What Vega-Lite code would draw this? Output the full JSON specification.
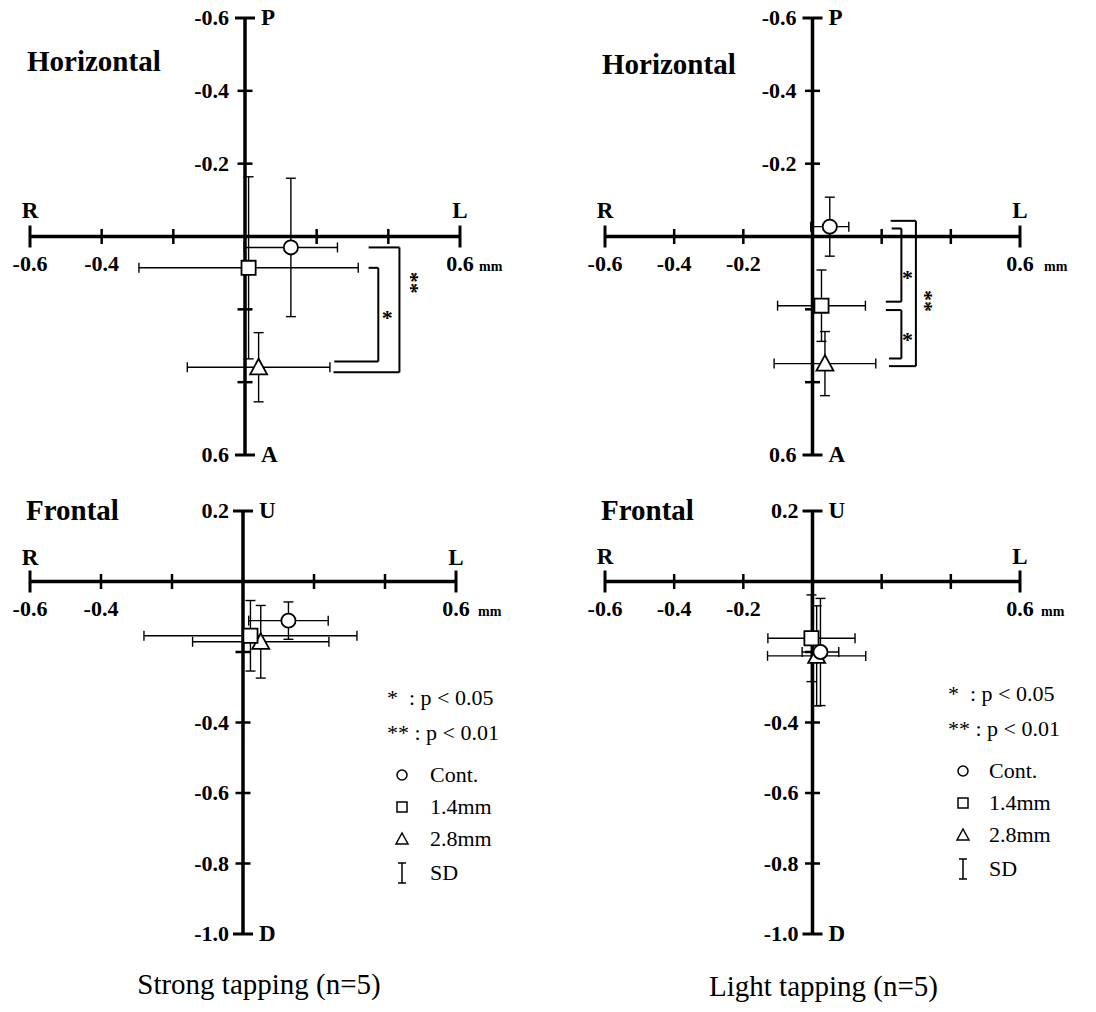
{
"$schema": "https://vega.github.io/schema/vega-lite/v6.json",
"background": "white",
"padding": {"left": 12, "top": 7, "right": 5, "bottom": 5},
"config": {"view": {"stroke": null}},
"datasets": {
"pts": [
{"panel":"TL","cond":"Cont.","x":0.128,"y":0.03,"sdx":0.13,"sdy":0.19},
{"panel":"TL","cond":"1.4mm","x":0.01,"y":0.086,"sdx":0.306,"sdy":0.25},
{"panel":"TL","cond":"2.8mm","x":0.038,"y":0.359,"sdx":0.199,"sdy":0.095},
{"panel":"TR","cond":"Cont.","x":0.05,"y":-0.027,"sdx":0.055,"sdy":0.081},
{"panel":"TR","cond":"1.4mm","x":0.026,"y":0.19,"sdx":0.127,"sdy":0.098},
{"panel":"TR","cond":"2.8mm","x":0.036,"y":0.349,"sdx":0.147,"sdy":0.088},
{"panel":"BL","cond":"Cont.","x":0.128,"y":-0.111,"sdx":0.112,"sdy":0.053},
{"panel":"BL","cond":"2.8mm","x":0.05,"y":-0.171,"sdx":0.192,"sdy":0.103},
{"panel":"BL","cond":"1.4mm","x":0.021,"y":-0.154,"sdx":0.30,"sdy":0.10},
{"panel":"BR","cond":"2.8mm","x":0.012,"y":-0.211,"sdx":0.142,"sdy":0.142},
{"panel":"BR","cond":"1.4mm","x":-0.003,"y":-0.161,"sdx":0.126,"sdy":0.123},
{"panel":"BR","cond":"Cont.","x":0.023,"y":-0.20,"sdx":0.053,"sdy":0.152}
],
"brk": [
{"panel":"TL","x":0.345,"x2":0.431,"y":0.03,"y2":0.03},
{"panel":"TL","x":0.431,"x2":0.431,"y":0.03,"y2":0.373},
{"panel":"TL","x":0.247,"x2":0.431,"y":0.373,"y2":0.373},
{"panel":"TL","x":0.345,"x2":0.372,"y":0.086,"y2":0.086},
{"panel":"TL","x":0.372,"x2":0.372,"y":0.086,"y2":0.343},
{"panel":"TL","x":0.249,"x2":0.372,"y":0.343,"y2":0.343},
{"panel":"TR","x":0.226,"x2":0.299,"y":-0.043,"y2":-0.043},
{"panel":"TR","x":0.299,"x2":0.299,"y":-0.043,"y2":0.356},
{"panel":"TR","x":0.221,"x2":0.299,"y":0.356,"y2":0.356},
{"panel":"TR","x":0.229,"x2":0.257,"y":-0.022,"y2":-0.022},
{"panel":"TR","x":0.257,"x2":0.257,"y":-0.022,"y2":0.179},
{"panel":"TR","x":0.212,"x2":0.257,"y":0.179,"y2":0.179},
{"panel":"TR","x":0.212,"x2":0.257,"y":0.202,"y2":0.202},
{"panel":"TR","x":0.257,"x2":0.257,"y":0.202,"y2":0.335},
{"panel":"TR","x":0.221,"x2":0.257,"y":0.335,"y2":0.335}
],
"stars": [
{"panel":"TL","x":0.397,"y":0.21,"t":"*"},
{"panel":"TL","x":0.47,"y":0.127,"t":"**"},
{"panel":"TR","x":0.275,"y":0.10,"t":"*"},
{"panel":"TR","x":0.275,"y":0.271,"t":"*"},
{"panel":"TR","x":0.327,"y":0.177,"t":"**"}
],
"hAxis": [{"x":-0.6,"x2":0.6,"y":0,"y2":0},{"x":0,"x2":0,"y":-0.6,"y2":0.6}],
"fAxis": [{"x":-0.6,"x2":0.6,"y":0,"y2":0},{"x":0,"x2":0,"y":-1.0,"y2":0.2}],
"xMinor": [{"v":-0.4},{"v":-0.2},{"v":0.2},{"v":0.4}],
"xEnds": [{"v":-0.6},{"v":0.6}],
"hyMinor": [{"v":-0.4},{"v":-0.2},{"v":0.2},{"v":0.4}],
"hyEnds": [{"v":-0.6},{"v":0.6}],
"fyMinor": [{"v":-0.2},{"v":-0.4},{"v":-0.6},{"v":-0.8}],
"fyEnds": [{"v":0.2},{"v":-1.0}],
"xLabL": [{"v":-0.6,"t":"-0.6"},{"v":-0.4,"t":"-0.4"},{"v":0.6,"t":"0.6"}],
"xLabR": [{"v":-0.6,"t":"-0.6"},{"v":-0.4,"t":"-0.4"},{"v":-0.2,"t":"-0.2"},{"v":0.6,"t":"0.6"}],
"hyLab": [{"v":-0.6,"t":"-0.6"},{"v":-0.4,"t":"-0.4"},{"v":-0.2,"t":"-0.2"},{"v":0.6,"t":"0.6"}],
"fyLab": [{"v":0.2,"t":"0.2"},{"v":-0.4,"t":"-0.4"},{"v":-0.6,"t":"-0.6"},{"v":-0.8,"t":"-0.8"},{"v":-1.0,"t":"-1.0"}],
"xDir": [{"v":-0.6,"t":"R"},{"v":0.6,"t":"L"}],
"hyDir": [{"v":-0.6,"t":"P"},{"v":0.6,"t":"A"}],
"fyDir": [{"v":0.2,"t":"U"},{"v":-1.0,"t":"D"}],
"unit": [{"v":0.6,"t":"mm"}]
},
"columns": 2,
"spacing": {"row": 56, "column": 145},
"bounds": "flush",
"resolve": {"scale": {"x":"independent","y":"independent","shape":"independent"}, "legend": {"shape":"independent"}},
"concat": [
{
"width":430,"height":437,
"layer":[
{"data":{"name":"hAxis"},"mark":{"type":"rule","color":"black","strokeWidth":3.5},"encoding":{"x":{"field":"x","type":"quantitative","scale":{"domain":[-0.6,0.6],"nice":false,"zero":false},"axis":null},"x2":{"field":"x2"},"y":{"field":"y","type":"quantitative","scale":{"domain":[-0.6,0.6],"reverse":true,"nice":false,"zero":false},"axis":null},"y2":{"field":"y2"}}},
{"data":{"name":"xMinor"},"mark":{"type":"tick","orient":"vertical","size":15,"thickness":2.5,"color":"black","opacity":1},"encoding":{"x":{"field":"v","type":"quantitative","axis":null},"y":{"datum":0,"axis":null}}},
{"data":{"name":"xEnds"},"mark":{"type":"tick","orient":"vertical","size":22,"thickness":3,"color":"black","opacity":1},"encoding":{"x":{"field":"v","type":"quantitative","axis":null},"y":{"datum":0,"axis":null}}},
{"data":{"name":"hyMinor"},"mark":{"type":"tick","orient":"horizontal","size":15,"thickness":2.5,"color":"black","opacity":1},"encoding":{"y":{"field":"v","type":"quantitative","axis":null},"x":{"datum":0,"axis":null}}},
{"data":{"name":"hyEnds"},"mark":{"type":"tick","orient":"horizontal","size":20,"thickness":3,"color":"black","opacity":1},"encoding":{"y":{"field":"v","type":"quantitative","axis":null},"x":{"datum":0,"axis":null}}},
{"data":{"name":"xLabL"},"mark":{"type":"text","font":"Liberation Serif","fontWeight":"bold","fontSize":22,"align":"center","baseline":"alphabetic","dy":34,"color":"black"},"encoding":{"x":{"field":"v","type":"quantitative","axis":null},"y":{"datum":0,"axis":null},"text":{"field":"t"}}},
{"data":{"name":"unit"},"mark":{"type":"text","font":"Liberation Serif","fontWeight":"bold","fontSize":14,"align":"left","baseline":"alphabetic","dx":19,"dy":34,"color":"black"},"encoding":{"x":{"field":"v","type":"quantitative","axis":null},"y":{"datum":0,"axis":null},"text":{"field":"t"}}},
{"data":{"name":"hyLab"},"mark":{"type":"text","font":"Liberation Serif","fontWeight":"bold","fontSize":22,"align":"right","baseline":"middle","dx":-16,"color":"black"},"encoding":{"y":{"field":"v","type":"quantitative","axis":null},"x":{"datum":0,"axis":null},"text":{"field":"t"}}},
{"data":{"name":"xDir"},"mark":{"type":"text","font":"Liberation Serif","fontWeight":"bold","fontSize":23,"align":"center","baseline":"alphabetic","dy":-19,"color":"black"},"encoding":{"x":{"field":"v","type":"quantitative","axis":null},"y":{"datum":0,"axis":null},"text":{"field":"t"}}},
{"data":{"name":"hyDir"},"mark":{"type":"text","font":"Liberation Serif","fontWeight":"bold","fontSize":23,"align":"left","baseline":"middle","dx":16,"color":"black"},"encoding":{"y":{"field":"v","type":"quantitative","axis":null},"x":{"datum":0,"axis":null},"text":{"field":"t"}}},
{"data":{"values":[{"t":"Horizontal"}]},"mark":{"type":"text","font":"Liberation Serif","fontWeight":"bold","fontSize":29,"align":"left","baseline":"alphabetic","dx":-3,"color":"black"},"encoding":{"x":{"datum":-0.6,"axis":null},"y":{"datum":-0.455,"axis":null},"text":{"field":"t"}}},
{"data":{"name":"pts"},"transform":[{"filter":"datum.panel === 'TL'"}],"mark":{"type":"errorbar","ticks":true,"size":10,"thickness":1.4,"color":"black","opacity":1},"encoding":{"x":{"field":"x","type":"quantitative","axis":null},"xError":{"field":"sdx"},"y":{"field":"y","type":"quantitative","axis":null}}},
{"data":{"name":"pts"},"transform":[{"filter":"datum.panel === 'TL'"}],"mark":{"type":"errorbar","ticks":true,"size":10,"thickness":1.4,"color":"black","opacity":1},"encoding":{"y":{"field":"y","type":"quantitative","axis":null},"yError":{"field":"sdy"},"x":{"field":"x","type":"quantitative","axis":null}}},
{"data":{"name":"pts"},"transform":[{"filter":"datum.panel === 'TL'"}],"mark":{"type":"point","filled":false,"fill":"white","stroke":"black","strokeWidth":1.8,"size":200,"opacity":1},"encoding":{"x":{"field":"x","type":"quantitative","axis":null},"y":{"field":"y","type":"quantitative","axis":null},"shape":{"field":"cond","type":"nominal","scale":{"domain":["Cont.","1.4mm","2.8mm","SD"],"range":["circle","square","M0,-1.2L-1.2,1L1.2,1Z","M0,-2L0,2M-0.8,-2L0.8,-2M-0.8,2L0.8,2"]},"legend":null}}},
{"data":{"name":"brk"},"transform":[{"filter":"datum.panel === 'TL'"}],"mark":{"type":"rule","color":"black","strokeWidth":2},"encoding":{"x":{"field":"x","type":"quantitative","axis":null},"x2":{"field":"x2"},"y":{"field":"y","type":"quantitative","axis":null},"y2":{"field":"y2"}}},
{"data":{"name":"stars"},"transform":[{"filter":"datum.panel === 'TL' && length(datum.t) === 1"}],"mark":{"type":"text","font":"Liberation Serif","fontWeight":"bold","fontSize":22,"align":"center","baseline":"middle","dy":5,"color":"black"},"encoding":{"x":{"field":"x","type":"quantitative","axis":null},"y":{"field":"y","type":"quantitative","axis":null},"text":{"field":"t"}}},
{"data":{"name":"stars"},"transform":[{"filter":"datum.panel === 'TL' && length(datum.t) === 2"}],"mark":{"type":"text","font":"Liberation Serif","fontWeight":"bold","fontSize":22,"align":"center","baseline":"middle","dy":2,"angle":90,"color":"black"},"encoding":{"x":{"field":"x","type":"quantitative","axis":null},"y":{"field":"y","type":"quantitative","axis":null},"text":{"field":"t"}}}
]
},
{
"width":415,"height":437,
"layer":[
{"data":{"name":"hAxis"},"mark":{"type":"rule","color":"black","strokeWidth":3.5},"encoding":{"x":{"field":"x","type":"quantitative","scale":{"domain":[-0.6,0.6],"nice":false,"zero":false},"axis":null},"x2":{"field":"x2"},"y":{"field":"y","type":"quantitative","scale":{"domain":[-0.6,0.6],"reverse":true,"nice":false,"zero":false},"axis":null},"y2":{"field":"y2"}}},
{"data":{"name":"xMinor"},"mark":{"type":"tick","orient":"vertical","size":15,"thickness":2.5,"color":"black","opacity":1},"encoding":{"x":{"field":"v","type":"quantitative","axis":null},"y":{"datum":0,"axis":null}}},
{"data":{"name":"xEnds"},"mark":{"type":"tick","orient":"vertical","size":22,"thickness":3,"color":"black","opacity":1},"encoding":{"x":{"field":"v","type":"quantitative","axis":null},"y":{"datum":0,"axis":null}}},
{"data":{"name":"hyMinor"},"mark":{"type":"tick","orient":"horizontal","size":15,"thickness":2.5,"color":"black","opacity":1},"encoding":{"y":{"field":"v","type":"quantitative","axis":null},"x":{"datum":0,"axis":null}}},
{"data":{"name":"hyEnds"},"mark":{"type":"tick","orient":"horizontal","size":20,"thickness":3,"color":"black","opacity":1},"encoding":{"y":{"field":"v","type":"quantitative","axis":null},"x":{"datum":0,"axis":null}}},
{"data":{"name":"xLabR"},"mark":{"type":"text","font":"Liberation Serif","fontWeight":"bold","fontSize":22,"align":"center","baseline":"alphabetic","dy":34,"color":"black"},"encoding":{"x":{"field":"v","type":"quantitative","axis":null},"y":{"datum":0,"axis":null},"text":{"field":"t"}}},
{"data":{"name":"unit"},"mark":{"type":"text","font":"Liberation Serif","fontWeight":"bold","fontSize":14,"align":"left","baseline":"alphabetic","dx":24,"dy":34,"color":"black"},"encoding":{"x":{"field":"v","type":"quantitative","axis":null},"y":{"datum":0,"axis":null},"text":{"field":"t"}}},
{"data":{"name":"hyLab"},"mark":{"type":"text","font":"Liberation Serif","fontWeight":"bold","fontSize":22,"align":"right","baseline":"middle","dx":-16,"color":"black"},"encoding":{"y":{"field":"v","type":"quantitative","axis":null},"x":{"datum":0,"axis":null},"text":{"field":"t"}}},
{"data":{"name":"xDir"},"mark":{"type":"text","font":"Liberation Serif","fontWeight":"bold","fontSize":23,"align":"center","baseline":"alphabetic","dy":-19,"color":"black"},"encoding":{"x":{"field":"v","type":"quantitative","axis":null},"y":{"datum":0,"axis":null},"text":{"field":"t"}}},
{"data":{"name":"hyDir"},"mark":{"type":"text","font":"Liberation Serif","fontWeight":"bold","fontSize":23,"align":"left","baseline":"middle","dx":16,"color":"black"},"encoding":{"y":{"field":"v","type":"quantitative","axis":null},"x":{"datum":0,"axis":null},"text":{"field":"t"}}},
{"data":{"values":[{"t":"Horizontal"}]},"mark":{"type":"text","font":"Liberation Serif","fontWeight":"bold","fontSize":29,"align":"left","baseline":"alphabetic","dx":-3,"color":"black"},"encoding":{"x":{"datum":-0.6,"axis":null},"y":{"datum":-0.445,"axis":null},"text":{"field":"t"}}},
{"data":{"name":"pts"},"transform":[{"filter":"datum.panel === 'TR'"}],"mark":{"type":"errorbar","ticks":true,"size":10,"thickness":1.4,"color":"black","opacity":1},"encoding":{"x":{"field":"x","type":"quantitative","axis":null},"xError":{"field":"sdx"},"y":{"field":"y","type":"quantitative","axis":null}}},
{"data":{"name":"pts"},"transform":[{"filter":"datum.panel === 'TR'"}],"mark":{"type":"errorbar","ticks":true,"size":10,"thickness":1.4,"color":"black","opacity":1},"encoding":{"y":{"field":"y","type":"quantitative","axis":null},"yError":{"field":"sdy"},"x":{"field":"x","type":"quantitative","axis":null}}},
{"data":{"name":"pts"},"transform":[{"filter":"datum.panel === 'TR'"}],"mark":{"type":"point","filled":false,"fill":"white","stroke":"black","strokeWidth":1.8,"size":200,"opacity":1},"encoding":{"x":{"field":"x","type":"quantitative","axis":null},"y":{"field":"y","type":"quantitative","axis":null},"shape":{"field":"cond","type":"nominal","scale":{"domain":["Cont.","1.4mm","2.8mm","SD"],"range":["circle","square","M0,-1.2L-1.2,1L1.2,1Z","M0,-2L0,2M-0.8,-2L0.8,-2M-0.8,2L0.8,2"]},"legend":null}}},
{"data":{"name":"brk"},"transform":[{"filter":"datum.panel === 'TR'"}],"mark":{"type":"rule","color":"black","strokeWidth":2},"encoding":{"x":{"field":"x","type":"quantitative","axis":null},"x2":{"field":"x2"},"y":{"field":"y","type":"quantitative","axis":null},"y2":{"field":"y2"}}},
{"data":{"name":"stars"},"transform":[{"filter":"datum.panel === 'TR' && length(datum.t) === 1"}],"mark":{"type":"text","font":"Liberation Serif","fontWeight":"bold","fontSize":22,"align":"center","baseline":"middle","dy":5,"color":"black"},"encoding":{"x":{"field":"x","type":"quantitative","axis":null},"y":{"field":"y","type":"quantitative","axis":null},"text":{"field":"t"}}},
{"data":{"name":"stars"},"transform":[{"filter":"datum.panel === 'TR' && length(datum.t) === 2"}],"mark":{"type":"text","font":"Liberation Serif","fontWeight":"bold","fontSize":22,"align":"center","baseline":"middle","dy":1,"angle":90,"color":"black"},"encoding":{"x":{"field":"x","type":"quantitative","axis":null},"y":{"field":"y","type":"quantitative","axis":null},"text":{"field":"t"}}}
]
},
{
"width":426,"height":423,
"title": {"text":"Strong tapping (n=5)","orient":"bottom","anchor":"middle","frame":"group","font":"Liberation Serif","fontSize":29,"fontWeight":"normal","color":"black","baseline":"alphabetic","offset":48,"dx":16},
"layer":[
{"data":{"name":"fAxis"},"mark":{"type":"rule","color":"black","strokeWidth":3.5},"encoding":{"x":{"field":"x","type":"quantitative","scale":{"domain":[-0.6,0.6],"nice":false,"zero":false},"axis":null},"x2":{"field":"x2"},"y":{"field":"y","type":"quantitative","scale":{"domain":[-1.0,0.2],"nice":false,"zero":false},"axis":null},"y2":{"field":"y2"}}},
{"data":{"name":"xMinor"},"mark":{"type":"tick","orient":"vertical","size":15,"thickness":2.5,"color":"black","opacity":1},"encoding":{"x":{"field":"v","type":"quantitative","axis":null},"y":{"datum":0,"axis":null}}},
{"data":{"name":"xEnds"},"mark":{"type":"tick","orient":"vertical","size":22,"thickness":3,"color":"black","opacity":1},"encoding":{"x":{"field":"v","type":"quantitative","axis":null},"y":{"datum":0,"axis":null}}},
{"data":{"name":"fyMinor"},"mark":{"type":"tick","orient":"horizontal","size":15,"thickness":2.5,"color":"black","opacity":1},"encoding":{"y":{"field":"v","type":"quantitative","axis":null},"x":{"datum":0,"axis":null}}},
{"data":{"name":"fyEnds"},"mark":{"type":"tick","orient":"horizontal","size":20,"thickness":3,"color":"black","opacity":1},"encoding":{"y":{"field":"v","type":"quantitative","axis":null},"x":{"datum":0,"axis":null}}},
{"data":{"name":"xLabL"},"mark":{"type":"text","font":"Liberation Serif","fontWeight":"bold","fontSize":22,"align":"center","baseline":"alphabetic","dy":34,"color":"black"},"encoding":{"x":{"field":"v","type":"quantitative","axis":null},"y":{"datum":0,"axis":null},"text":{"field":"t"}}},
{"data":{"name":"unit"},"mark":{"type":"text","font":"Liberation Serif","fontWeight":"bold","fontSize":14,"align":"left","baseline":"alphabetic","dx":22,"dy":34,"color":"black"},"encoding":{"x":{"field":"v","type":"quantitative","axis":null},"y":{"datum":0,"axis":null},"text":{"field":"t"}}},
{"data":{"name":"fyLab"},"mark":{"type":"text","font":"Liberation Serif","fontWeight":"bold","fontSize":22,"align":"right","baseline":"middle","dx":-14,"color":"black"},"encoding":{"y":{"field":"v","type":"quantitative","axis":null},"x":{"datum":0,"axis":null},"text":{"field":"t"}}},
{"data":{"name":"xDir"},"mark":{"type":"text","font":"Liberation Serif","fontWeight":"bold","fontSize":23,"align":"center","baseline":"alphabetic","dy":-17,"color":"black"},"encoding":{"x":{"field":"v","type":"quantitative","axis":null},"y":{"datum":0,"axis":null},"text":{"field":"t"}}},
{"data":{"name":"fyDir"},"mark":{"type":"text","font":"Liberation Serif","fontWeight":"bold","fontSize":23,"align":"left","baseline":"middle","dx":16,"color":"black"},"encoding":{"y":{"field":"v","type":"quantitative","axis":null},"x":{"datum":0,"axis":null},"text":{"field":"t"}}},
{"data":{"values":[{"t":"Frontal"}]},"mark":{"type":"text","font":"Liberation Serif","fontWeight":"bold","fontSize":29,"align":"left","baseline":"alphabetic","dx":-4,"color":"black"},"encoding":{"x":{"datum":-0.6,"axis":null},"y":{"datum":0.174,"axis":null},"text":{"field":"t"}}},
{"data":{"name":"pts"},"transform":[{"filter":"datum.panel === 'BL'"}],"mark":{"type":"errorbar","ticks":true,"size":10,"thickness":1.4,"color":"black","opacity":1},"encoding":{"x":{"field":"x","type":"quantitative","axis":null},"xError":{"field":"sdx"},"y":{"field":"y","type":"quantitative","axis":null}}},
{"data":{"name":"pts"},"transform":[{"filter":"datum.panel === 'BL'"}],"mark":{"type":"errorbar","ticks":true,"size":10,"thickness":1.4,"color":"black","opacity":1},"encoding":{"y":{"field":"y","type":"quantitative","axis":null},"yError":{"field":"sdy"},"x":{"field":"x","type":"quantitative","axis":null}}},
{"data":{"name":"pts"},"transform":[{"filter":"datum.panel === 'BL'"}],"mark":{"type":"point","filled":false,"fill":"white","stroke":"black","strokeWidth":1.8,"size":200,"opacity":1},"encoding":{"x":{"field":"x","type":"quantitative","axis":null},"y":{"field":"y","type":"quantitative","axis":null},"shape":{"field":"cond","type":"nominal","scale":{"domain":["Cont.","1.4mm","2.8mm","SD"],"range":["circle","square","M0,-1.2L-1.2,1L1.2,1Z","M0,-2L0,2M-0.8,-2L0.8,-2M-0.8,2L0.8,2"]},"legend":{"orient":"none","legendX":357,"legendY":177,"title":["\u00a0*\u00a0\u00a0:\u00a0p < 0.05","**\u00a0:\u00a0p < 0.01"],"titleFont":"Liberation Serif","titleFontSize":22,"titleFontWeight":"normal","titleColor":"black","titleLineHeight":35,"titlePadding":19,"titleAlign":"left","titleAnchor":"start","labelFont":"Liberation Serif","labelFontSize":22,"labelColor":"black","labelOffset":17,"symbolOffset":4,"rowPadding":10,"symbolSize":100,"padding":0}}}}
]
},
{
"width":415,"height":423,
"title": {"text":"Light tapping (n=5)","orient":"bottom","anchor":"middle","frame":"group","font":"Liberation Serif","fontSize":29,"fontWeight":"normal","color":"black","baseline":"alphabetic","offset":50,"dx":11},
"layer":[
{"data":{"name":"fAxis"},"mark":{"type":"rule","color":"black","strokeWidth":3.5},"encoding":{"x":{"field":"x","type":"quantitative","scale":{"domain":[-0.6,0.6],"nice":false,"zero":false},"axis":null},"x2":{"field":"x2"},"y":{"field":"y","type":"quantitative","scale":{"domain":[-1.0,0.2],"nice":false,"zero":false},"axis":null},"y2":{"field":"y2"}}},
{"data":{"name":"xMinor"},"mark":{"type":"tick","orient":"vertical","size":15,"thickness":2.5,"color":"black","opacity":1},"encoding":{"x":{"field":"v","type":"quantitative","axis":null},"y":{"datum":0,"axis":null}}},
{"data":{"name":"xEnds"},"mark":{"type":"tick","orient":"vertical","size":22,"thickness":3,"color":"black","opacity":1},"encoding":{"x":{"field":"v","type":"quantitative","axis":null},"y":{"datum":0,"axis":null}}},
{"data":{"name":"fyMinor"},"mark":{"type":"tick","orient":"horizontal","size":15,"thickness":2.5,"color":"black","opacity":1},"encoding":{"y":{"field":"v","type":"quantitative","axis":null},"x":{"datum":0,"axis":null}}},
{"data":{"name":"fyEnds"},"mark":{"type":"tick","orient":"horizontal","size":20,"thickness":3,"color":"black","opacity":1},"encoding":{"y":{"field":"v","type":"quantitative","axis":null},"x":{"datum":0,"axis":null}}},
{"data":{"name":"xLabR"},"mark":{"type":"text","font":"Liberation Serif","fontWeight":"bold","fontSize":22,"align":"center","baseline":"alphabetic","dy":34,"color":"black"},"encoding":{"x":{"field":"v","type":"quantitative","axis":null},"y":{"datum":0,"axis":null},"text":{"field":"t"}}},
{"data":{"name":"unit"},"mark":{"type":"text","font":"Liberation Serif","fontWeight":"bold","fontSize":14,"align":"left","baseline":"alphabetic","dx":21,"dy":34,"color":"black"},"encoding":{"x":{"field":"v","type":"quantitative","axis":null},"y":{"datum":0,"axis":null},"text":{"field":"t"}}},
{"data":{"name":"fyLab"},"mark":{"type":"text","font":"Liberation Serif","fontWeight":"bold","fontSize":22,"align":"right","baseline":"middle","dx":-14,"color":"black"},"encoding":{"y":{"field":"v","type":"quantitative","axis":null},"x":{"datum":0,"axis":null},"text":{"field":"t"}}},
{"data":{"name":"xDir"},"mark":{"type":"text","font":"Liberation Serif","fontWeight":"bold","fontSize":23,"align":"center","baseline":"alphabetic","dy":-18,"color":"black"},"encoding":{"x":{"field":"v","type":"quantitative","axis":null},"y":{"datum":0,"axis":null},"text":{"field":"t"}}},
{"data":{"name":"fyDir"},"mark":{"type":"text","font":"Liberation Serif","fontWeight":"bold","fontSize":23,"align":"left","baseline":"middle","dx":16,"color":"black"},"encoding":{"y":{"field":"v","type":"quantitative","axis":null},"x":{"datum":0,"axis":null},"text":{"field":"t"}}},
{"data":{"values":[{"t":"Frontal"}]},"mark":{"type":"text","font":"Liberation Serif","fontWeight":"bold","fontSize":29,"align":"left","baseline":"alphabetic","dx":-4,"color":"black"},"encoding":{"x":{"datum":-0.6,"axis":null},"y":{"datum":0.174,"axis":null},"text":{"field":"t"}}},
{"data":{"name":"pts"},"transform":[{"filter":"datum.panel === 'BR'"}],"mark":{"type":"errorbar","ticks":true,"size":10,"thickness":1.4,"color":"black","opacity":1},"encoding":{"x":{"field":"x","type":"quantitative","axis":null},"xError":{"field":"sdx"},"y":{"field":"y","type":"quantitative","axis":null}}},
{"data":{"name":"pts"},"transform":[{"filter":"datum.panel === 'BR'"}],"mark":{"type":"errorbar","ticks":true,"size":10,"thickness":1.4,"color":"black","opacity":1},"encoding":{"y":{"field":"y","type":"quantitative","axis":null},"yError":{"field":"sdy"},"x":{"field":"x","type":"quantitative","axis":null}}},
{"data":{"name":"pts"},"transform":[{"filter":"datum.panel === 'BR'"}],"mark":{"type":"point","filled":false,"fill":"white","stroke":"black","strokeWidth":1.8,"size":200,"opacity":1},"encoding":{"x":{"field":"x","type":"quantitative","axis":null},"y":{"field":"y","type":"quantitative","axis":null},"shape":{"field":"cond","type":"nominal","scale":{"domain":["Cont.","1.4mm","2.8mm","SD"],"range":["circle","square","M0,-1.2L-1.2,1L1.2,1Z","M0,-2L0,2M-0.8,-2L0.8,-2M-0.8,2L0.8,2"]},"legend":{"orient":"none","legendX":343,"legendY":173,"title":["\u00a0*\u00a0\u00a0:\u00a0p < 0.05","**\u00a0:\u00a0p < 0.01"],"titleFont":"Liberation Serif","titleFontSize":22,"titleFontWeight":"normal","titleColor":"black","titleLineHeight":35,"titlePadding":19,"titleAlign":"left","titleAnchor":"start","labelFont":"Liberation Serif","labelFontSize":22,"labelColor":"black","labelOffset":15,"symbolOffset":4,"rowPadding":10,"symbolSize":100,"padding":0}}}}
]
}
]
}
